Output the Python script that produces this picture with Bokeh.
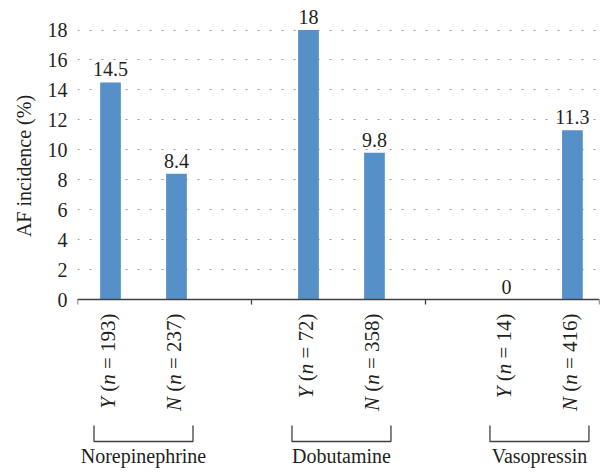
from bokeh.plotting import figure
from bokeh.models import Range1d, FixedTicker, ColumnDataSource
from bokeh.layouts import column, row
from bokeh.embed import file_html
from bokeh.resources import INLINE
from bokeh.core.properties import value

# ---------------- data ----------------
groups = ["Norepinephrine", "Dobutamine", "Vasopressin"]
answers = ["Y", "N"]
counts = [193, 237, 72, 358, 14, 416]
incidence = [14.5, 8.4, 18, 9.8, 0, 11.3]
value_labels = ["14.5", "8.4", "18", "9.8", "0", "11.3"]
y_ticks = [0, 2, 4, 6, 8, 10, 12, 14, 16, 18]
y_title = "AF incidence (%)"

# ---------------- style / layout ----------------
FONT = "Liberation Serif"
FS = 20
FS_CAT = 21
TXT = "#231f20"
BAR = "#5690c8"
AXIS = "#404040"

TOTAL_W, TOTAL_H = 608, 472
LEFT_W = 36          # strip holding the y-axis title
TOP_H = 312          # chart frame height
BOT_H = TOTAL_H - TOP_H
MAIN_W = TOTAL_W - LEFT_W
BORDER_L, BORDER_R = 41, 9

xs = [g * 3 + j + 0.5 for g in range(len(groups)) for j in range(len(answers))]
X_END = 7.91
Y_END = 19.973
Y_START = -0.868
PPU = TOP_H / (Y_END - Y_START)
PPX = (MAIN_W - BORDER_L - BORDER_R) / X_END

# ---------------- main chart ----------------
top = figure(width=MAIN_W, height=TOP_H, x_range=Range1d(0, X_END), y_range=Range1d(Y_START, Y_END),
             output_backend="svg", toolbar_location=None, title=None, x_axis_location=None,
             min_border_left=BORDER_L, min_border_right=BORDER_R, min_border_top=0, min_border_bottom=0)
top.outline_line_color = None

ya = top.yaxis[0]
ya.ticker = FixedTicker(ticks=y_ticks)
ya.axis_line_color = None
ya.major_tick_line_color = None
ya.major_tick_out = 0
ya.major_tick_in = 0
ya.minor_tick_line_color = None
ya.major_label_standoff = 10
ya.major_label_text_font = FONT
ya.major_label_text_font_size = f"{FS}px"
ya.major_label_text_color = TXT

top.xgrid.visible = False
top.ygrid.ticker = FixedTicker(ticks=y_ticks)
top.ygrid.grid_line_color = "#9a9a9a"
top.ygrid.grid_line_dash = "2 10"
top.ygrid.grid_line_width = 1.2

src = ColumnDataSource(dict(x=xs, v=incidence, lbl=value_labels,
                            ly=[v + 6 / PPU for v in incidence]))
top.vbar(x="x", top="v", bottom=0, width=0.314, source=src, fill_color=BAR, line_color=None)
top.text(x="x", y="ly", text="lbl", source=src, text_align="center", text_baseline="bottom",
         text_font=value(FONT), text_font_size=f"{FS}px", text_color=TXT)

# category axis line and group ticks
div = [0, X_END / 3, 2 * X_END / 3, X_END]
top.segment(x0=[0], y0=[0], x1=[X_END], y1=[0], line_color=AXIS, line_width=1.3)
top.segment(x0=div, y0=[0] * 4, x1=div, y1=[-5 / PPU] * 4, line_color=AXIS, line_width=1.3)

# ---------------- y-axis title strip ----------------
left = figure(width=LEFT_W, height=TOP_H, x_range=Range1d(0, LEFT_W), y_range=Range1d(0, TOP_H),
              output_backend="svg", toolbar_location=None, title=None,
              x_axis_location=None, y_axis_location=None,
              min_border_left=0, min_border_right=0, min_border_top=0, min_border_bottom=0)
left.outline_line_color = None
left.grid.visible = False
left.text(x=[23], y=[TOP_H - 165.5], text=[y_title], angle=1.5707963267948966,
          text_align="center", text_baseline="middle", text_font=value(FONT),
          text_font_size=f"{FS}px", text_color=TXT)

# ---------------- lower panel: category labels and brackets ----------------
bot = figure(width=MAIN_W, height=BOT_H, x_range=top.x_range, y_range=Range1d(0, BOT_H),
             output_backend="svg", toolbar_location=None, title=None,
             x_axis_location=None, y_axis_location=None,
             min_border_left=BORDER_L, min_border_right=BORDER_R, min_border_top=0, min_border_bottom=0)
bot.outline_line_color = None
bot.grid.visible = False

W_UP = {" ": 0.25, "(": 0.333, ")": 0.333, "=": 0.564}
W_IT = {"Y": 0.556, "N": 0.667, "n": 0.5}


def wup(s):
    return sum(W_UP.get(c, 0.5) for c in s) * FS_CAT


END_Y = BOT_H - 1
SHIFT = 2.5 / PPX
up_x, up_y, up_t = [], [], []
it_x, it_y, it_t = [], [], []
for i, x in enumerate(xs):
    ans = answers[i % 2]
    tail = f"= {counts[i]})"
    lx = x - SHIFT
    y = END_Y
    up_x.append(lx); up_y.append(y); up_t.append(tail)
    y -= wup(tail) + wup(" ")
    it_x.append(lx); it_y.append(y); it_t.append("n")
    y -= W_IT["n"] * FS_CAT
    up_x.append(lx); up_y.append(y); up_t.append("(")
    y -= wup("(") + wup(" ")
    it_x.append(lx); it_y.append(y); it_t.append(ans)

common = dict(angle=1.5707963267948966, text_align="right", text_baseline="middle",
              text_font=value(FONT), text_font_size=f"{FS_CAT}px", text_color=TXT)
bot.text(x=up_x, y=up_y, text=up_t, **common)
bot.text(x=it_x, y=it_y, text=it_t, text_font_style="italic", **common)

centers = [(xs[2 * g] + xs[2 * g + 1]) / 2 for g in range(len(groups))]
bx = [[c - 0.75, c - 0.75, c + 0.75, c + 0.75] for c in centers]
by = [[47, 31, 31, 47] for _ in centers]
bot.multi_line(xs=bx, ys=by, line_color=AXIS, line_width=1.3)
bot.text(x=centers, y=[6] * len(centers), text=groups, text_align="center",
         text_baseline="bottom", text_font=value(FONT), text_font_size=f"{FS}px",
         text_color=TXT)

layout = row(left, column(top, bot, spacing=0), spacing=0)
open("out.html", "w").write(file_html(layout, INLINE))
